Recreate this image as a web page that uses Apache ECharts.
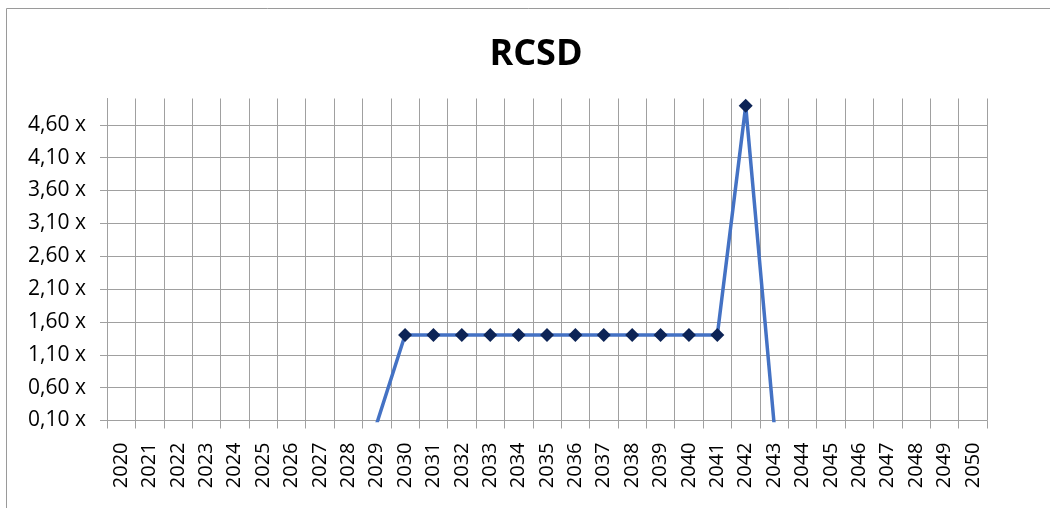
<!DOCTYPE html>
<html>
<head>
<meta charset="utf-8">
<script src="https://cdn.jsdelivr.net/npm/echarts@6/dist/echarts.min.js"></script>
<style>
  html, body { margin: 0; padding: 0; background: #fff; }
  #chart { width: 1050px; height: 508px; }
</style>
</head>
<body>
<div id="chart"></div>
<script>
// years on the x axis
var years = [];
for (var y = 2020; y <= 2050; y++) years.push(String(y));

// RCSD values (blank where nothing was plotted; 2029 and 2043 fall below the axis min)
var rcsd = [
  null, null, null, null, null, null, null, null, null, 0.05,
  1.40, 1.40, 1.40, 1.40, 1.40, 1.40, 1.40, 1.40, 1.40, 1.40, 1.40, 1.40,
  4.89, 0.05,
  null, null, null, null, null, null, null
];

// y axis settings
var yMin = 0.10;
var yMax = 5.00;
var yStep = 0.50;

var gridColor = '#a0a0a0';
var font = '"Open Sans", Roboto, sans-serif';

var chart = echarts.init(document.getElementById('chart'));

var option = {
  animation: false,
  backgroundColor: '#fff',
  title: {
    text: 'RCSD',
    left: 531,
    textAlign: 'center',
    top: 32,
    textStyle: {
      fontFamily: font,
      fontSize: 36,
      fontWeight: 'bold',
      color: '#000'
    }
  },
  // chart frame (only top and left edges are in view)
  graphic: [
    { type: 'line', shape: { x1: 6.5, y1: 8.5, x2: 1050, y2: 8.5 }, style: { stroke: '#9a9a9a', lineWidth: 1 } },
    { type: 'line', shape: { x1: 6.5, y1: 8.5, x2: 6.5, y2: 508 }, style: { stroke: '#9a9a9a', lineWidth: 1 } }
  ],
  grid: {
    left: 107,
    right: 63,
    top: 98.5,
    bottom: 87.5,
    containLabel: false
  },
  xAxis: {
    type: 'category',
    data: years,
    boundaryGap: true,
    axisLine: { show: true, lineStyle: { color: gridColor, width: 1 } },
    axisTick: { show: true, length: 8, interval: 0, lineStyle: { color: gridColor, width: 1 } },
    splitLine: { show: true, interval: 0, lineStyle: { color: gridColor, width: 1 } },
    axisLabel: {
      interval: 0,
      rotate: 90,
      margin: 22,
      fontFamily: font,
      fontSize: 20,
      color: '#000'
    }
  },
  yAxis: {
    type: 'value',
    min: yMin,
    max: yMax,
    interval: yStep,
    axisLine: { show: true, lineStyle: { color: gridColor, width: 1 } },
    axisTick: { show: true, length: 7, lineStyle: { color: gridColor, width: 1 } },
    splitLine: { show: true, showMaxLine: false, lineStyle: { color: gridColor, width: 1 } },
    axisLabel: {
      showMaxLabel: false,
      margin: 21,
      fontFamily: font,
      fontSize: 21,
      color: '#000',
      formatter: function (v) {
        return v.toFixed(2).replace('.', ',') + ' x';
      }
    }
  },
  series: [
    {
      name: 'RCSD',
      type: 'line',
      data: rcsd,
      clip: true,
      connectNulls: false,
      symbol: 'diamond',
      symbolSize: 14,
      itemStyle: { color: '#0d2456' },
      lineStyle: { color: '#4472c4', width: 3.5 }
    }
  ]
};

chart.setOption(option);
</script>
</body>
</html>
